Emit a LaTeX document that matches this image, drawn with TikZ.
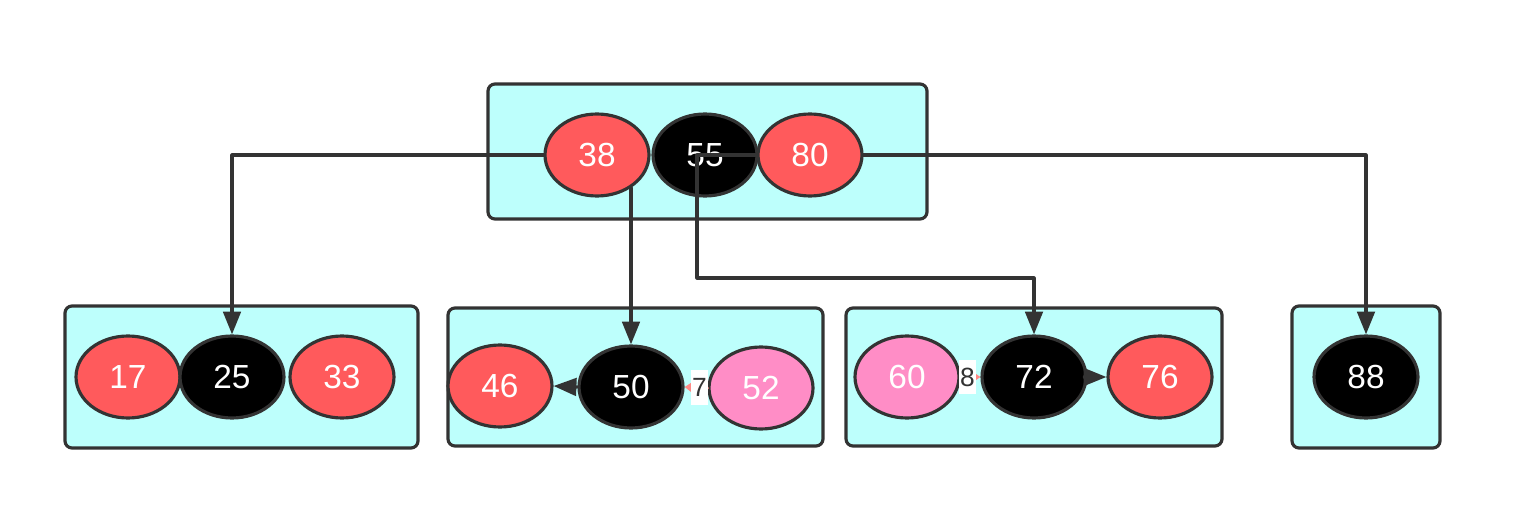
\documentclass[tikz,border=0pt]{standalone}
\usepackage{fontspec}
\setmainfont{Liberation Sans}
\usetikzlibrary{shapes.geometric,arrows.meta}

\definecolor{boxfill}{HTML}{BDFFFC}
\definecolor{edge}{HTML}{333333}
\definecolor{redkey}{HTML}{FF5A5C}
\definecolor{pinkkey}{HTML}{FF8DC6}
\definecolor{salmon}{HTML}{FF8A86}

\begin{document}
\begin{tikzpicture}[x=0.02cm,y=-0.02cm,line cap=round,line join=round,
  page/.style={draw=edge,fill=boxfill,line width=1.8pt,rounded corners=4pt},
  key/.style={ellipse,draw=edge,line width=1.8pt,minimum width=2.08cm,
    minimum height=1.64cm,inner sep=0pt,text=white,font=\fontsize{19}{21}\selectfont},
  red/.style={key,fill=redkey},
  blk/.style={key,fill=black},
  pnk/.style={key,fill=pinkkey},
  link/.style={draw=edge,line width=1.8pt,-{Triangle[length=13pt,width=10pt]}},
  sib/.style={draw=salmon,line width=1.8pt,-{Triangle[length=6pt,width=8pt]}},
  lbl/.style={fill=white,text=edge,inner xsep=0.5pt,inner ysep=1pt,minimum height=0.7cm,
    font=\fontsize{15}{16}\selectfont}]
  \useasboundingbox (0,0) rectangle (1532,520);

  % Pages
  \draw[page] (488,84) rectangle (927,219);
  \draw[page] (65,306) rectangle (418,448);
  \draw[page] (448,308) rectangle (823,446);
  \draw[page] (846,308) rectangle (1222,446);
  \draw[page] (1292,306) rectangle (1440,448);

  % Keys
  \node[red] (n38) at (597,155) {38};
  \node[blk] (n55) at (705,155) {55};
  \node[red] (n80) at (810,155) {80};

  \node[red] (n17) at (128,377) {17};
  \node[blk] (n25) at (232,377) {25};
  \node[red] (n33) at (342,377) {33};

  \node[red] (n46) at (500,386) {46};
  \node[blk] (n50) at (631,387) {50};
  \node[pnk] (n52) at (761,388) {52};

  \node[pnk] (n60) at (907,377) {60};
  \node[blk] (n72) at (1034,377) {72};
  \node[red] (n76) at (1160,377) {76};

  \node[blk] (n88) at (1366,377) {88};

  % Child pointers
  \coordinate (bend) at (697,278);
  \draw[link] (n38.west) -| (n25.north);
  \draw[link] (n38.-44 -| n50.north) -- (n50.north);
  \draw[link] (n80.west) -- (n80.west -| bend) -- (bend) -| (n72.north);
  \draw[link] (n80.east) -| (n88.north);

  % Inside the pages
  \draw[link] (n50.west) -- (n46.east);
  \draw[sib] (n52.west) -- node[lbl,pos=0.35] {7} (n50.east);
  \draw[sib] (n60.east) -- node[lbl,pos=0.35] {8} (n72.west);
  \draw[link] (n72.east) -- (n76.west);
\end{tikzpicture}
\end{document}
